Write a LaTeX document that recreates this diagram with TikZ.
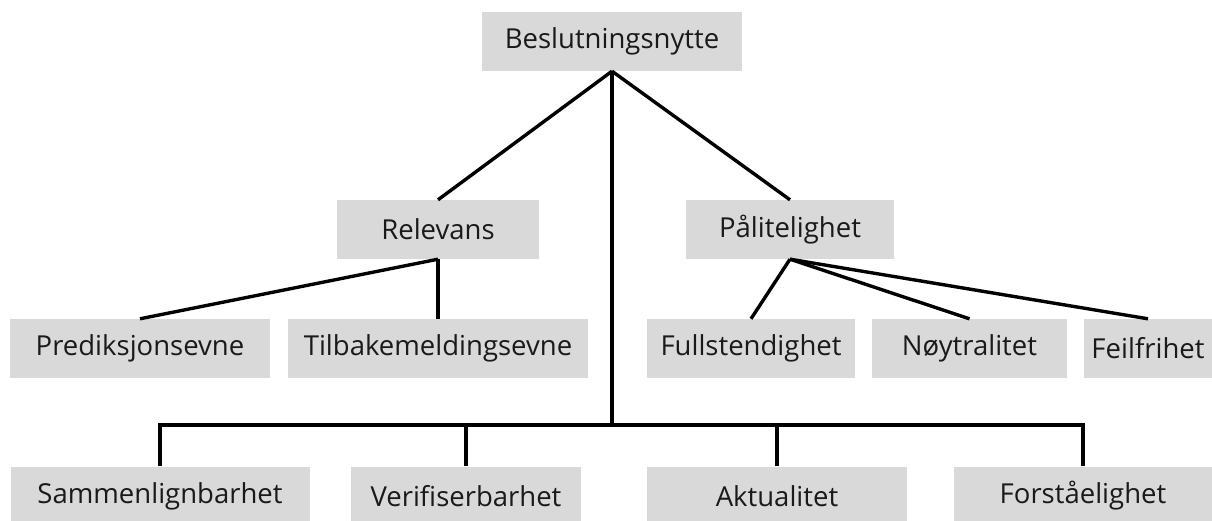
\documentclass[tikz,border=0pt]{standalone}
\usepackage{fontspec}
\setmainfont{Open Sans}
\definecolor{boxgray}{HTML}{D9D9D9}
\definecolor{txt}{HTML}{1A1A1A}
\begin{document}
\begin{tikzpicture}[x=1pt,y=-1pt,
  box/.style={fill=boxgray, draw=none, inner sep=0pt, minimum height=59pt,
    font=\fontsize{27.5}{32}\selectfont, text=txt},
  conn/.style={line width=3.4pt, draw=black}]
\useasboundingbox (0,0) rectangle (1212,520);
\clip (0,0) rectangle (1212,520);
% nodes
\node[box, minimum width=260pt] (top)  at (612,41.5)   {Beslutningsnytte};
\node[box, minimum width=202pt] (rel)  at (438,229.5)  {Relevans};
\node[box, minimum width=208pt] (pal)  at (790,229.5)  {Pålitelighet};
\node[box, minimum width=260pt] (pred) at (140,348.5)  {Prediksjonsevne};
\node[box, minimum width=300pt] (tilb) at (438,348.5)  {Tilbakemeldingsevne};
\node[box, minimum width=208pt] (full) at (751,348.5)  {Fullstendighet};
\node[box, minimum width=195pt] (noy)  at (969.5,348.5){Nøytralitet};
\node[box, minimum width=128pt] (feil) at (1148,348.5) {Feilfrihet};
\node[box, minimum width=299pt] (samm) at (160,496)    {Sammenlignbarhet};
\node[box, minimum width=230pt] (veri) at (466,496)    {Verifiserbarhet};
\node[box, minimum width=260pt] (akt)  at (777,496)    {Aktualitet};
\node[box, minimum width=259pt] (fors) at (1083,496)   {Forståelighet};
\coordinate (bus) at (612,425);
% connectors
\draw[conn] (top.south) -- (rel.north);
\draw[conn] (top.south) -- (pal.north);
\draw[conn] (top.south) -- (bus);
\draw[conn] (rel.south) -- (pred.north);
\draw[conn] (rel.south) -- (tilb.north);
\draw[conn] (pal.south) -- (full.north);
\draw[conn] (pal.south) -- (noy.north);
\draw[conn] (pal.south) -- (feil.north);
\draw[conn] (samm.north) -- (samm.north |- bus) -- (fors.north |- bus) -- (fors.north);
\draw[conn] (veri.north) -- (veri.north |- bus);
\draw[conn] (akt.north) -- (akt.north |- bus);
\end{tikzpicture}
\end{document}
